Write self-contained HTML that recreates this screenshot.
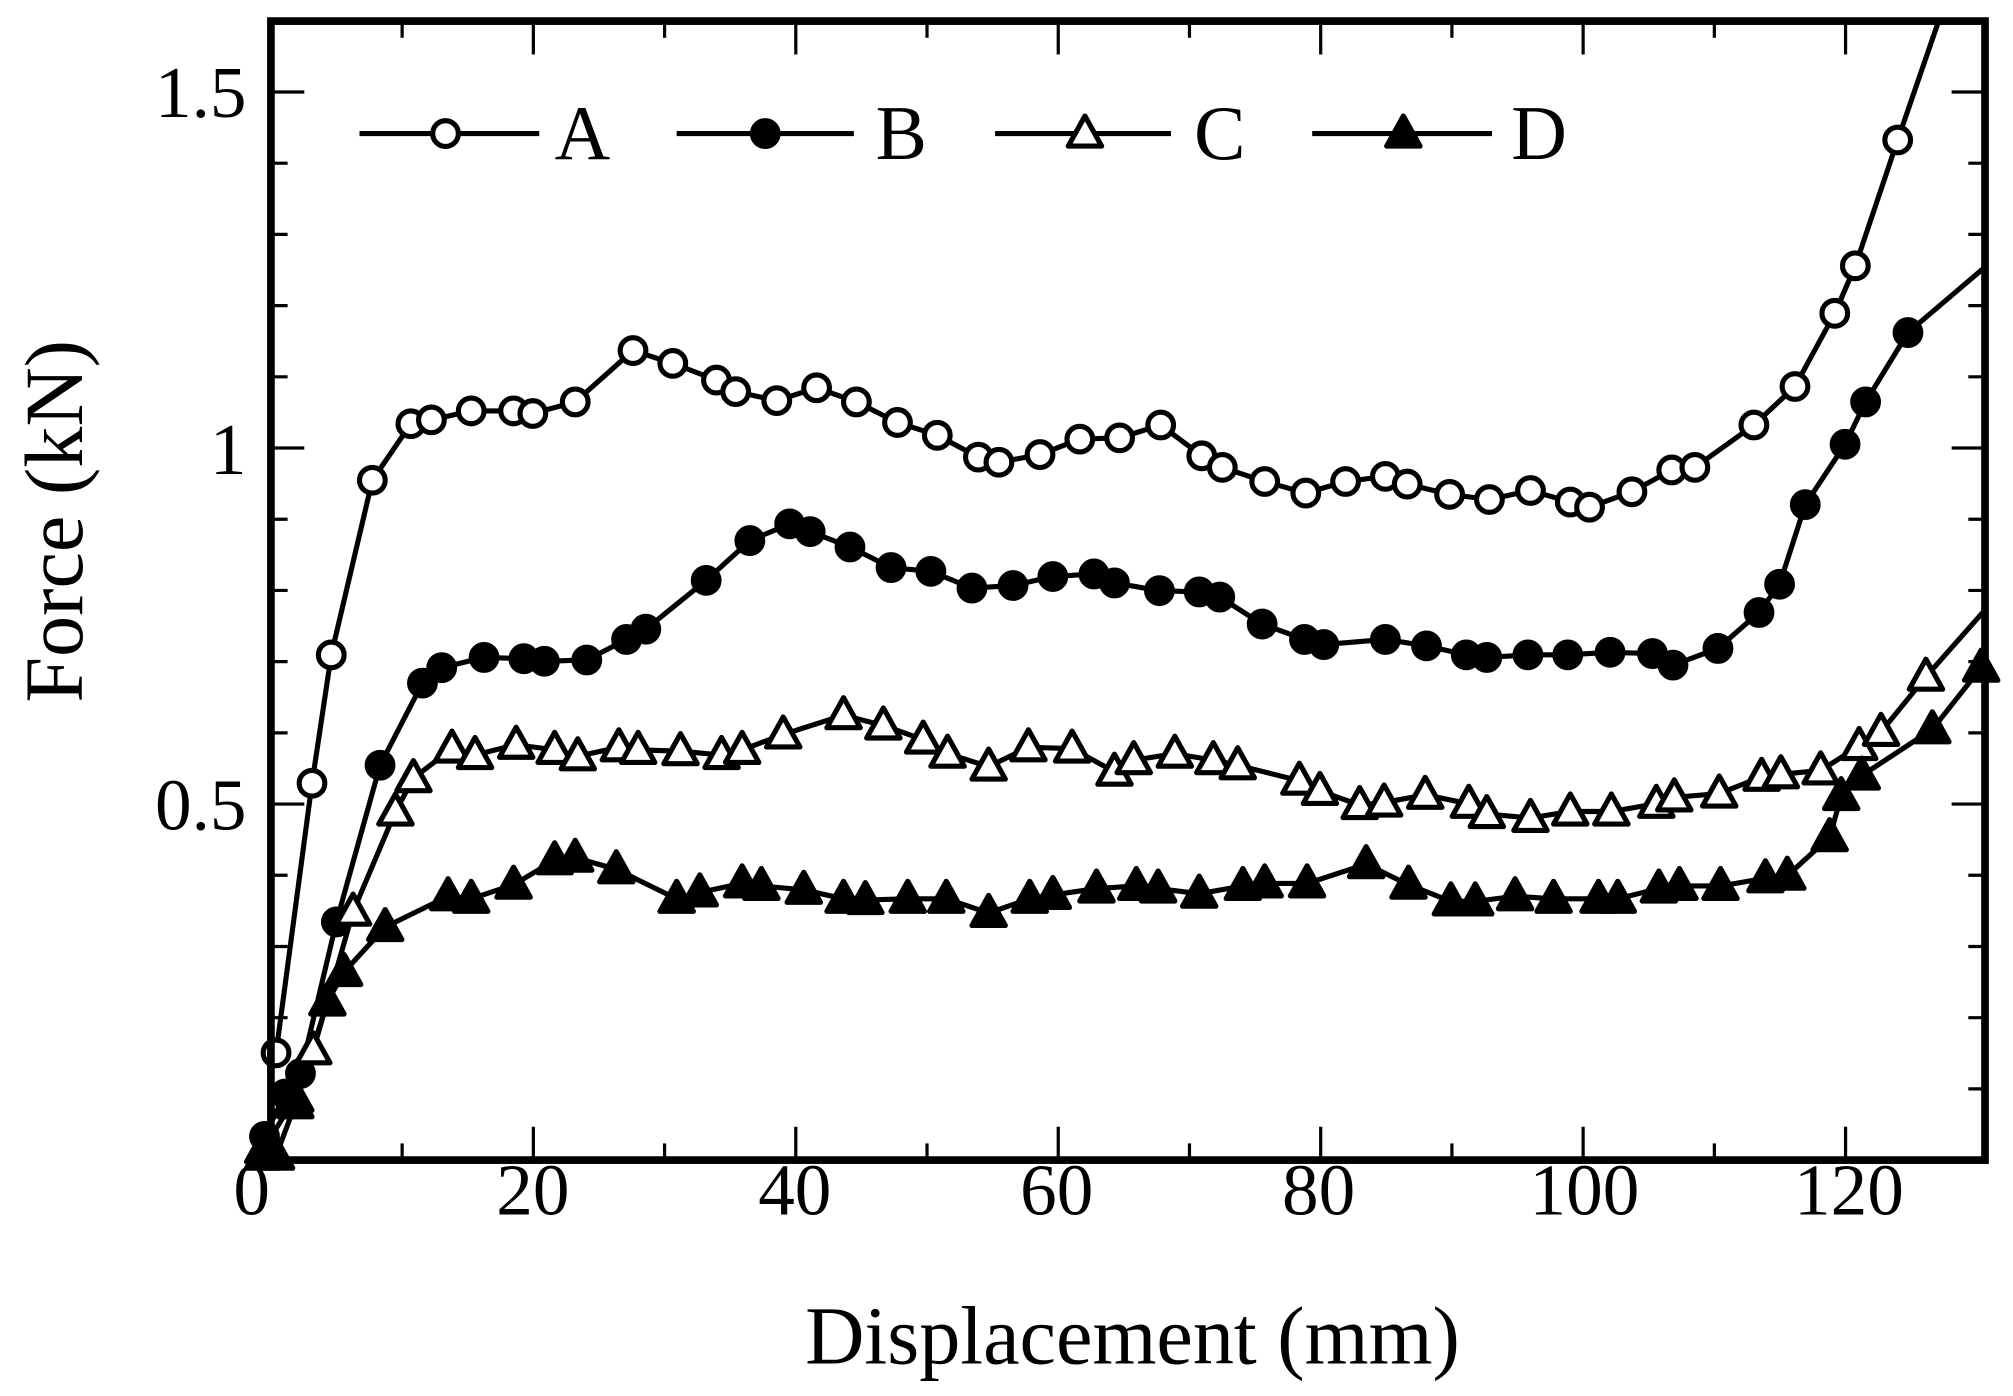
<!DOCTYPE html>
<html><head><meta charset="utf-8"><style>
html,body{margin:0;padding:0;background:#fff;}
svg{display:block;}
text{font-family:"Liberation Serif",serif;fill:#000;}
</style></head><body>
<svg id="s" width="2013" height="1396" viewBox="0 0 1567.8 1087.2" xmlns="http://www.w3.org/2000/svg">
<rect width="1567.8" height="1087.2" fill="#fff"/>
<g id="ticks" stroke="#000" stroke-width="2.5"></g>
<g id="series"></g>
<rect x="211" y="16.4" width="1335" height="887.1" fill="none" stroke="#000" stroke-width="6"/>
<g font-size="57" text-anchor="middle">
<text x="196" y="946">0</text><text x="415" y="946">20</text><text x="619" y="946">40</text>
<text x="823" y="946">60</text><text x="1027" y="946">80</text><text x="1234" y="946">100</text><text x="1440" y="946">120</text>
</g>
<g font-size="57" text-anchor="end">
<text x="192" y="646">0.5</text><text x="192" y="369">1</text><text x="192" y="91">1.5</text>
</g>
<text x="882" y="1062" font-size="64" text-anchor="middle">Displacement (mm)</text>
<text transform="translate(64,406) rotate(-90)" font-size="64" text-anchor="middle">Force (kN)</text>
<g id="legend"></g>
<g font-size="60">
<text x="432" y="124">A</text><text x="682" y="124">B</text><text x="930" y="124">C</text><text x="1177" y="124">D</text>
</g>
</svg>
<script>
var NS="http://www.w3.org/2000/svg";
function el(t,a,p){var e=document.createElementNS(NS,t);for(var k in a)e.setAttribute(k,a[k]);p.appendChild(e);return e;}
var tk=document.getElementById("ticks");
for(var i=1;i<13;i++){var x=211+i*102.2,L=(i%2==0)?26:13;
 el("line",{x1:x,y1:903.5,x2:x,y2:903.5-L},tk);el("line",{x1:x,y1:16.4,x2:x,y2:16.4+L},tk);}
for(var k=1;k<16;k++){var y=903.5-k*55.46,L=(k%5==0)?26:13;
 el("line",{x1:211,y1:y,x2:211+L,y2:y},tk);el("line",{x1:1546,y1:y,x2:1546-L,y2:y},tk);}
var A=[[215,820],[243,610],[258,510],[290,374],[320,330],[336,327],[367,320],[400,320],[415,322],[448,313],[493,273],[524,283],[558,296],[573,305],[605,312],[636,302],[667,313],[699,329],[730,339],[762,356],[778,360],[810,354],[841,342],[872,341],[904,331],[936,355],[952,364],[985,375],[1017,384],[1048,375],[1079,371],[1096,377],[1129,385],[1160,389],[1192,382],[1223,391],[1238,395],[1271,383],[1302,366],[1320,364],[1366,331],[1398,301],[1429,244],[1445,207],[1478,109]];
var B=[[206,885],[222,852],[234,836],[262,718],[296,596],[329,532],[344,520],[377,512],[408,513],[424,515],[457,514],[488,498],[503,490],[550,452],[584,421],[615,408],[631,414],[662,426],[694,442],[725,445],[757,458],[789,456],[820,449],[852,447],[868,454],[903,460],[934,461],[950,465],[983,486],[1016,498],[1031,502],[1079,498],[1111,503],[1142,510],[1158,512],[1190,510],[1221,510],[1254,508],[1287,509],[1303,518],[1338,505],[1370,477],[1386,455],[1406,393],[1437,346],[1453,313],[1486,259]];
var C=[[205,895],[230,855],[244,818],[275,710],[308,632],[322,606],[352,583],[370,588],[402,580],[432,584],[450,589],[482,582],[497,584],[530,585],[562,588],[578,584],[610,572],[657,557],[688,565],[719,576],[738,587],[770,597],[801,582],[835,583],[868,601],[883,592],[915,587],[945,592],[964,596],[1012,608],[1028,616],[1059,627],[1078,625],[1110,619],[1144,626],[1158,634],[1192,637],[1223,632],[1255,632],[1290,626],[1304,621],[1339,618],[1372,605],[1387,603],[1418,600],[1448,581],[1465,570],[1500,527]];
var D=[[205,900],[215,900],[230,860],[255,780],[268,757],[300,722],[349,698],[367,700],[400,689],[432,670],[448,668],[480,677],[527,700],[545,695],[578,688],[593,690],[626,693],[657,700],[674,701],[707,700],[737,700],[770,711],[802,700],[820,697],[854,692],[885,690],[902,692],[934,696],[968,690],[985,688],[1018,688],[1064,673],[1097,689],[1130,702],[1149,702],[1180,698],[1210,700],[1245,700],[1260,700],[1292,692],[1308,690],[1340,690],[1375,684],[1392,682],[1425,652],[1434,620],[1450,604],[1505,568],[1543,520]];
var g=document.getElementById("series");
function line(pts){el("polyline",{points:pts.map(function(p){return p.join(",")}).join(" "),fill:"none",stroke:"#000","stroke-width":4,"stroke-linejoin":"round"},g);}
function circ(p,f,par){el("circle",{cx:p[0],cy:p[1],r:10,fill:f?"#000":"#fff",stroke:"#000","stroke-width":4},par);}
function tri(p,f,par){var x=p[0],y=p[1],s=13;el("polygon",{points:(x-s)+","+(y+s*0.75)+" "+(x+s)+","+(y+s*0.75)+" "+x+","+(y-s*1.05),fill:f?"#000":"#fff",stroke:"#000","stroke-width":4,"stroke-linejoin":"round"},par);}
line(A.concat([[1510,16]]));line(B.concat([[1546,208]]));line(C.concat([[1546,475]]));line(D);
A.forEach(function(p){circ(p,0,g)});B.forEach(function(p){circ(p,1,g)});
C.forEach(function(p){tri(p,0,g)});D.forEach(function(p){tri(p,1,g)});
var lg=document.getElementById("legend");
[[280,420,347,0],[527,665,596,1],[775,912,845,2],[1022,1162,1093,3]].forEach(function(l){
 el("line",{x1:l[0],y1:104,x2:l[1],y2:104,stroke:"#000","stroke-width":4},lg);
 var p=[l[2],104];if(l[3]==0)circ(p,0,lg);else if(l[3]==1)circ(p,1,lg);else tri(p,l[3]==3,lg);});
</script>
</body></html>
